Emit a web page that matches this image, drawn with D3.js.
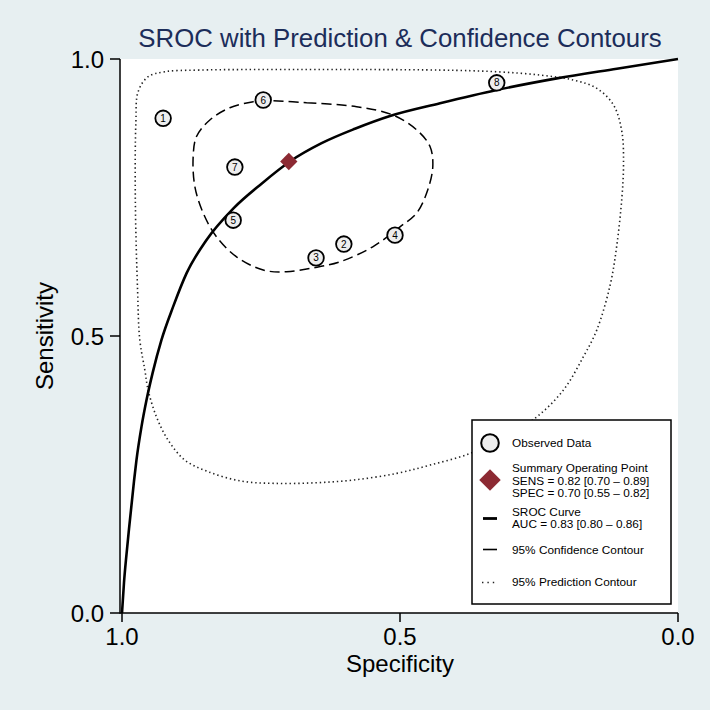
<!DOCTYPE html>
<html>
<head>
<meta charset="utf-8">
<script src="https://cdn.jsdelivr.net/npm/d3@7"></script>
<style>
  html, body { margin: 0; padding: 0; background: #E7EFF1; }
  svg { display: block; }
  text { font-family: "Liberation Sans", Arial, Helvetica, sans-serif; }
</style>
</head>
<body>
<svg id="chart" width="710" height="710"></svg>
<script>
// ---------------- DATA ----------------
const titleText = "SROC with Prediction & Confidence Contours";
const xTicks = [1.0, 0.5, 0.0];
const yTicks = [0.0, 0.5, 1.0];

// observed studies: [id, specificity, sensitivity]
const studyIds  = [1, 2, 3, 4, 5, 6, 7, 8];
const studySpec = [0.926, 0.601, 0.651, 0.509, 0.800, 0.746, 0.797, 0.326];
const studySens = [0.893, 0.666, 0.641, 0.682, 0.709, 0.926, 0.805, 0.957];

// summary operating point
const summarySpec = 0.70;
const summarySens = 0.815;

// SROC curve: [specificity, sensitivity]
const srocCurve = [
  [1.000, 0.000], [0.9964, 0.055], [0.992, 0.105], [0.9874, 0.152], [0.9784, 0.238],
  [0.974, 0.276], [0.965, 0.336], [0.956, 0.384], [0.945, 0.433], [0.929, 0.493],
  [0.908, 0.553], [0.884, 0.613], [0.849, 0.672], [0.800, 0.730], [0.749, 0.775],
  [0.698, 0.815], [0.641, 0.848], [0.581, 0.874], [0.518, 0.897], [0.428, 0.920],
  [0.326, 0.944], [0.218, 0.965], [0.110, 0.9825], [0.000, 1.000]
];

// 95% confidence contour: [specificity, sensitivity]
const confContour = [
  [0.746, 0.925], [0.668, 0.921], [0.578, 0.914], [0.513, 0.899], [0.470, 0.872],
  [0.446, 0.842], [0.441, 0.806], [0.450, 0.764], [0.470, 0.722], [0.500, 0.697],
  [0.549, 0.661], [0.608, 0.634], [0.656, 0.623], [0.704, 0.616], [0.746, 0.619],
  [0.794, 0.643], [0.830, 0.679], [0.854, 0.722], [0.869, 0.770], [0.872, 0.824],
  [0.866, 0.860], [0.842, 0.890], [0.806, 0.912], [0.764, 0.923]
];

// 95% prediction contour: [specificity, sensitivity]
const predContour = [
  [0.923, 0.977], [0.863, 0.980], [0.680, 0.981], [0.428, 0.980], [0.326, 0.977],
  [0.248, 0.971], [0.188, 0.962], [0.146, 0.947], [0.116, 0.917], [0.101, 0.869],
  [0.098, 0.809], [0.101, 0.749], [0.110, 0.664], [0.122, 0.592], [0.146, 0.511],
  [0.170, 0.463], [0.206, 0.4025], [0.254, 0.354], [0.311, 0.318], [0.374, 0.288],
  [0.446, 0.267], [0.506, 0.252], [0.584, 0.240], [0.653, 0.235], [0.725, 0.234],
  [0.785, 0.238], [0.845, 0.255], [0.887, 0.276], [0.917, 0.312], [0.938, 0.354],
  [0.953, 0.4025], [0.959, 0.439], [0.968, 0.493], [0.972, 0.583], [0.976, 0.745],
  [0.975, 0.887], [0.971, 0.941], [0.953, 0.968]
];

const legendObserved = ["Observed Data"];
const legendSummary = ["Summary Operating Point", "SENS = 0.82 [0.70 \u2013 0.89]", "SPEC = 0.70 [0.55 \u2013 0.82]"];
const legendSroc = ["SROC Curve", "AUC = 0.83 [0.80 \u2013 0.86]"];
const legendConf = ["95% Confidence Contour"];
const legendPred = ["95% Prediction Contour"];

// ---------------- DRAW ----------------
const svg = d3.select("#chart");
const L = 122, R = 678, T = 59, B = 613;
const x = d3.scaleLinear().domain([1, 0]).range([L, R]);
const y = d3.scaleLinear().domain([0, 1]).range([B, T]);

// background
svg.append("rect").attr("width", 710).attr("height", 710).attr("fill", "#E7EFF1");
// plot region
svg.append("rect").attr("x", 120).attr("y", T).attr("width", R - 120).attr("height", B - T).attr("fill", "#ffffff");

// title
svg.append("text").attr("x", 400).attr("y", 47).attr("text-anchor", "middle")
  .attr("font-size", 25.8).attr("fill", "#1C2D5A").text(titleText);

// axes lines
svg.append("line").attr("x1", 120).attr("x2", 120).attr("y1", T).attr("y2", B + 0.75)
  .attr("stroke", "#000").attr("stroke-width", 1.5);
svg.append("line").attr("x1", 120).attr("x2", R).attr("y1", B).attr("y2", B)
  .attr("stroke", "#000").attr("stroke-width", 1.5);

// y ticks
const yt = svg.append("g");
yTicks.forEach(v => {
  yt.append("line").attr("x1", 110).attr("x2", 120).attr("y1", y(v)).attr("y2", y(v))
    .attr("stroke", "#000").attr("stroke-width", 1.5);
  yt.append("text").attr("x", 104).attr("y", y(v) + 8.5).attr("text-anchor", "end")
    .attr("font-size", 24).attr("fill", "#000").text(d3.format(".1f")(v));
});
// x ticks
const xt = svg.append("g");
xTicks.forEach(v => {
  xt.append("line").attr("x1", x(v)).attr("x2", x(v)).attr("y1", B).attr("y2", B + 9)
    .attr("stroke", "#000").attr("stroke-width", 1.5);
  xt.append("text").attr("x", x(v)).attr("y", 645).attr("text-anchor", "middle")
    .attr("font-size", 24).attr("fill", "#000").text(d3.format(".1f")(v));
});
// axis titles
svg.append("text").attr("x", 400).attr("y", 672).attr("text-anchor", "middle")
  .attr("font-size", 24).attr("fill", "#000").text("Specificity");
svg.append("text").attr("transform", "translate(53,336) rotate(-90)").attr("text-anchor", "middle")
  .attr("font-size", 24).attr("fill", "#000").text("Sensitivity");

// prediction contour (dotted)
const closedLine = d3.line().x(d => x(d[0])).y(d => y(d[1])).curve(d3.curveCatmullRomClosed.alpha(0.5));
svg.append("path").attr("d", closedLine(predContour)).attr("fill", "none")
  .attr("stroke", "#222").attr("stroke-width", 1.6).attr("stroke-dasharray", "1.4 2.9");

// confidence contour (dashed)
svg.append("path").attr("d", closedLine(confContour)).attr("fill", "none")
  .attr("stroke", "#000").attr("stroke-width", 1.5).attr("stroke-dasharray", "10 5");

// SROC curve
const openLine = d3.line().x(d => x(d[0])).y(d => y(d[1])).curve(d3.curveMonotoneX);
svg.append("path").attr("d", openLine(srocCurve)).attr("fill", "none")
  .attr("stroke", "#000").attr("stroke-width", 2.6);

// observed points
const pts = svg.append("g");
studyIds.forEach((id, i) => {
  const g = pts.append("g").attr("transform", `translate(${x(studySpec[i])},${y(studySens[i])})`);
  g.append("circle").attr("r", 7.8).attr("fill", "#EEEEEE").attr("stroke", "#000").attr("stroke-width", 1.8);
  g.append("text").attr("y", 3.6).attr("text-anchor", "middle").attr("font-size", 10)
    .attr("fill", "#000").text(id);
});

// summary point
svg.append("path").attr("d", d3.symbol().type(d3.symbolSquare).size(150)())
  .attr("transform", `translate(${x(summarySpec)},${y(summarySens)}) rotate(45)`)
  .attr("fill", "#8C2A33");

// legend
const lg = svg.append("g");
lg.append("rect").attr("x", 472).attr("y", 420).attr("width", 199).attr("height", 184)
  .attr("fill", "#fff").attr("stroke", "#000").attr("stroke-width", 1.5);
const tx = 512, fs = 11.8;
function lines(arr, y0) {
  arr.forEach((s, k) => lg.append("text").attr("x", tx).attr("y", y0 + k * 12.2 + 4.2)
    .attr("font-size", fs).attr("fill", "#000").text(s));
}
lg.append("circle").attr("cx", 490).attr("cy", 443).attr("r", 8.8).attr("fill", "#EEEEEE")
  .attr("stroke", "#000").attr("stroke-width", 2);
lines(legendObserved, 443);
lg.append("path").attr("d", d3.symbol().type(d3.symbolSquare).size(230)())
  .attr("transform", "translate(490,480) rotate(45)").attr("fill", "#8C2A33");
lines(legendSummary, 468.2);
lg.append("line").attr("x1", 483).attr("x2", 497).attr("y1", 518.5).attr("y2", 518.5)
  .attr("stroke", "#000").attr("stroke-width", 2.8);
lines(legendSroc, 512);
lg.append("line").attr("x1", 483).attr("x2", 497).attr("y1", 549.5).attr("y2", 549.5)
  .attr("stroke", "#000").attr("stroke-width", 1.6);
lines(legendConf, 549.5);
lg.append("line").attr("x1", 482).attr("x2", 497).attr("y1", 582.5).attr("y2", 582.5)
  .attr("stroke", "#222").attr("stroke-width", 1.6).attr("stroke-dasharray", "1.4 4");
lines(legendPred, 582);
</script>
</body>
</html>
